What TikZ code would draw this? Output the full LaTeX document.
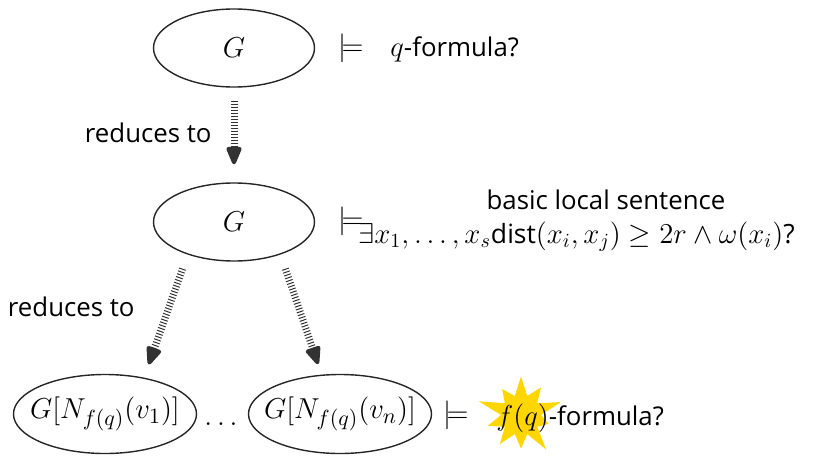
\documentclass[tikz,border=0pt]{standalone}
\usepackage{fontspec}
\setsansfont[Scale=0.89]{Open Sans}
\usetikzlibrary{shapes.geometric,shapes.symbols,arrows.meta}
\definecolor{stargold}{RGB}{255,214,0}
\definecolor{arrowgray}{RGB}{50,50,50}
\begin{document}
\begin{tikzpicture}[x=0.5pt,y=-0.5pt,
  font=\fontsize{14.5}{17}\selectfont,
  ell/.style={ellipse, draw=black!85, line width=0.7pt, inner sep=0pt},
  smallell/.style={ell, minimum width=80.5pt, minimum height=39pt},
  bigell/.style={ell, minimum width=91.5pt, minimum height=39.5pt},
  redarrow/.style={draw=arrowgray, line width=3.5pt, dash pattern=on 0.5pt off 1pt,
    -{Triangle[round, line width=2pt, length=10.5pt, width=8pt, color=arrowgray]}},
  lbl/.style={inner sep=0pt, font=\fontsize{14.5}{17}\selectfont\sffamily},
  bigmath/.style={font=\fontsize{15.2}{18}\selectfont}
]
\useasboundingbox (0,0) rectangle (840,455);

% ellipses
\node[smallell] (g1) at (234,48) {};
\node[smallell] (g2) at (234,222) {};
\node[bigell] (l) at (105,414) {};
\node[bigell] (r) at (340,414) {};
\node (g1t) at (g1.center) {$G$};
\node (g2t) at (g2.center) {$G$};
\node[bigmath] (lt) at (l.center) {$G[N_{f(q)}(v_1)]$};
\node[bigmath] (rt) at (r.center) {$G[N_{f(q)}(v_n)]$};
\node[anchor=base, inner sep=0pt] (dots) at (221,425) {$\ldots$};

% models
\node[inner sep=0pt] (m1) at (351,48) {$\models$};
\node[inner sep=0pt] (m2) at (351,221) {$\models$};
\node[inner sep=0pt] (m3) at (456,415) {$\models$};

% texts
\node[lbl, anchor=base west] (qf) at (390,56) {$q$-formula?};
\node[lbl, anchor=base] (bls) at (606,209) {basic local sentence};
\node[lbl, anchor=base west, font=\fontsize{14.9}{17}\selectfont\sffamily] (fml) at (358,243) {$\exists x_1,\ldots,x_s\textsf{dist}(x_i,x_j)\geq 2r\wedge\omega(x_i)$?};
\node[starburst, fill=stargold, draw=none, minimum width=46pt, minimum height=46pt,
  starburst point height=13pt, starburst points=10, inner sep=0pt] (star) at (521,415) {};
\node[lbl, anchor=base west] (ff) at (496,425) {$f(q)$-formula?};

\node[lbl, anchor=east] (rt1) at (212,133) {reduces to};
\node[lbl, anchor=east] (rt2) at (135,307) {reduces to};

% arrows
\draw[redarrow, shorten <=6.5pt, shorten >=9pt] (g1.south) -- (g2.north);
\draw[redarrow, shorten <=7.5pt, shorten >=7pt] (g2.215) -- (l.43);
\draw[redarrow, shorten <=7.5pt, shorten >=5.5pt] (g2.325) -- (r.115);
\end{tikzpicture}
\end{document}
